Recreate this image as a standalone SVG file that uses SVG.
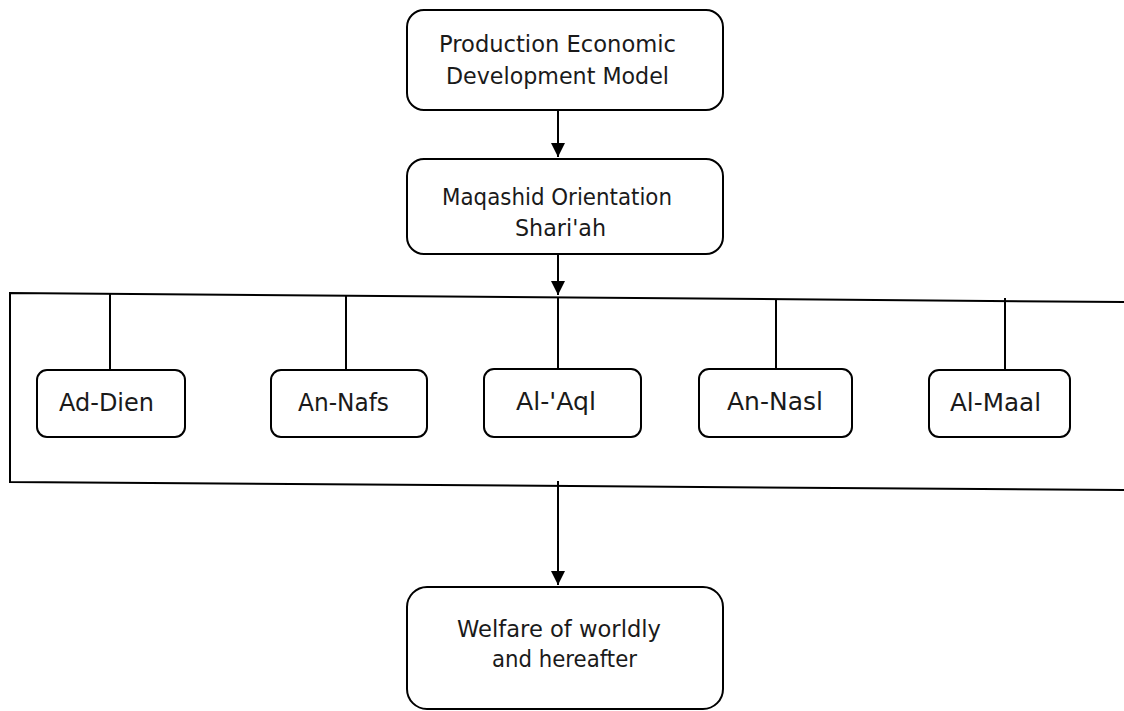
<svg xmlns="http://www.w3.org/2000/svg" width="1124" height="711" viewBox="0 0 1124 711">
<defs>
<style>
.box{fill:#fff;stroke:#000;stroke-width:2}
.ln{fill:none;stroke:#000;stroke-width:2}
.t{font-family:"DejaVu Sans","Liberation Sans",sans-serif;font-size:23px;fill:#1a1a1a}
.c{font-family:"DejaVu Sans","Liberation Sans",sans-serif;font-size:25px;fill:#1a1a1a}
</style>
<marker id="ah" viewBox="0 0 10 10" refX="10" refY="5" markerWidth="7" markerHeight="7" markerUnits="strokeWidth" orient="auto">
<path d="M0,0 L10,5 L0,10 Z" fill="#000"/>
</marker>
</defs>
<rect width="1124" height="711" fill="#fff"/>
<g id="connectors">
<line class="ln" x1="558" y1="110" x2="558" y2="157" marker-end="url(#ah)"/>
<line class="ln" x1="558" y1="254" x2="558" y2="295" marker-end="url(#ah)"/>
<polyline class="ln" points="1124,302 10,293 10,482 1124,490"/>
<line class="ln" x1="110" y1="294" x2="110" y2="370"/>
<line class="ln" x1="346" y1="296" x2="346" y2="370"/>
<line class="ln" x1="558" y1="297" x2="558" y2="369"/>
<line class="ln" x1="776" y1="299" x2="776" y2="369"/>
<line class="ln" x1="1005" y1="298" x2="1005" y2="370"/>
<line class="ln" x1="558" y1="481" x2="558" y2="585" marker-end="url(#ah)"/>
</g>
<g id="node-production">
<rect class="box" x="407" y="10" width="316" height="100" rx="17"/>
<text class="t" x="439" y="52" textLength="237" lengthAdjust="spacingAndGlyphs">Production  Economic</text>
<text class="t" x="446" y="84" textLength="223" lengthAdjust="spacingAndGlyphs">Development  Model</text>
</g>
<g id="node-maqashid">
<rect class="box" x="407" y="159" width="316" height="95" rx="17"/>
<text class="t" x="442" y="205" textLength="230" lengthAdjust="spacingAndGlyphs">Maqashid  Orientation</text>
<text class="t" x="515" y="236" textLength="91" lengthAdjust="spacingAndGlyphs">Shari'ah</text>
</g>
<g id="node-ad-dien">
<rect class="box" x="37" y="370" width="148" height="67" rx="10"/>
<text class="c" x="59" y="411" textLength="95" lengthAdjust="spacingAndGlyphs">Ad-Dien</text>
</g>
<g id="node-an-nafs">
<rect class="box" x="271" y="370" width="156" height="67" rx="10"/>
<text class="c" x="298" y="411" textLength="91" lengthAdjust="spacingAndGlyphs">An-Nafs</text>
</g>
<g id="node-al-aql">
<rect class="box" x="484" y="369" width="157" height="68" rx="10"/>
<text class="c" x="516" y="410" textLength="80" lengthAdjust="spacingAndGlyphs">Al-'Aql</text>
</g>
<g id="node-an-nasl">
<rect class="box" x="699" y="369" width="153" height="68" rx="10"/>
<text class="c" x="727" y="410" textLength="96" lengthAdjust="spacingAndGlyphs">An-Nasl</text>
</g>
<g id="node-al-maal">
<rect class="box" x="929" y="370" width="141" height="67" rx="10"/>
<text class="c" x="950" y="411" textLength="91" lengthAdjust="spacingAndGlyphs">Al-Maal</text>
</g>
<g id="node-welfare">
<rect class="box" x="407" y="587" width="316" height="122" rx="20"/>
<text class="t" x="457" y="637" textLength="204" lengthAdjust="spacingAndGlyphs">Welfare of worldly</text>
<text class="t" x="492" y="667" textLength="145" lengthAdjust="spacingAndGlyphs">and hereafter</text>
</g>
</svg>
